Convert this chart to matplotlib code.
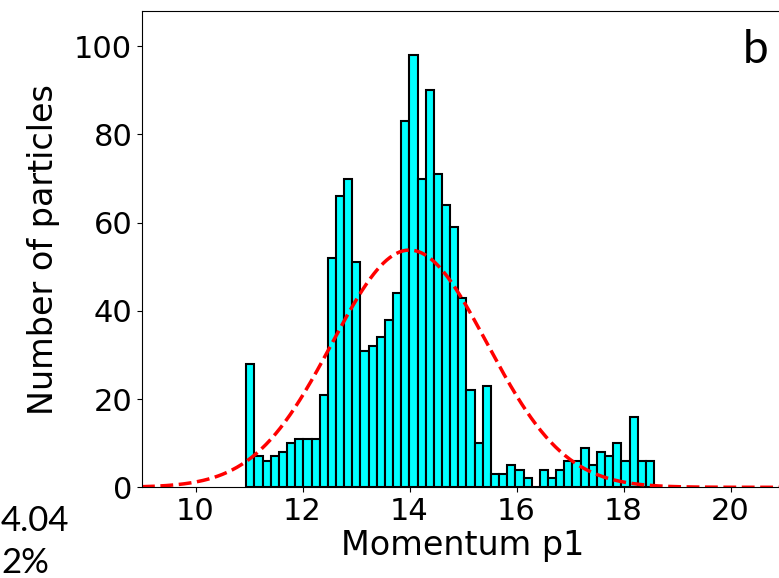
import numpy as np
import matplotlib
matplotlib.use("Agg")
import matplotlib.pyplot as plt

# histogram of momentum p1: 50 bins between the min and max value
bin_lo = 10.95
bin_hi = 18.57
counts = [28, 7, 6, 7, 8, 10, 11, 11, 11, 21,
          52, 66, 70, 51, 31, 32, 34, 38, 44, 83,
          98, 70, 90, 71, 64, 59, 43, 22, 10, 23,
          3, 3, 5, 4, 2, 0, 4, 2, 4, 6,
          6, 9, 5, 8, 7, 10, 6, 16, 6, 6]

# gaussian fit parameters
mu = 14.0
sigma = 1.45

edges = np.linspace(bin_lo, bin_hi, len(counts) + 1)
width = edges[1] - edges[0]
centers = edges[:-1] + width / 2

fig = plt.figure(figsize=(7.79, 5.78), dpi=100)
ax = fig.add_axes([142 / 779, (578 - 487.3) / 578, 642 / 779, 476.3 / 578])

ax.hist(centers, bins=edges, weights=counts, color='cyan', edgecolor='black', linewidth=1.5)

x = np.linspace(9, 21, 400)
y = sum(counts) * width / (sigma * np.sqrt(2 * np.pi)) * np.exp(-(x - mu) ** 2 / (2 * sigma ** 2))
ax.plot(x, y, 'r--', linewidth=2.5)

ax.set_xlim(9, 21)
ax.set_ylim(0, 108)
ax.set_xticks([10, 12, 14, 16, 18, 20])
ax.set_yticks([0, 20, 40, 60, 80, 100])
ax.tick_params(labelsize=22)
ax.set_xlabel('Momentum p1', fontsize=24, labelpad=2)
ax.set_ylabel('Number of particles', fontsize=24, labelpad=10)

ax.text(768 / 779, (578 - 63) / 578, 'b', transform=fig.transFigure, ha='right', va='baseline',
        fontsize=33, family='Lato')

# pieces of text from the neighbouring panel
fig.text(1 / 779, (578 - 531) / 578, '4.04', ha='left', va='baseline', fontsize=25, family='Lato')
fig.text(1 / 779, (578 - 573) / 578, '2%', ha='left', va='baseline', fontsize=25, family='Lato')

fig.savefig('out.png', dpi=100)
